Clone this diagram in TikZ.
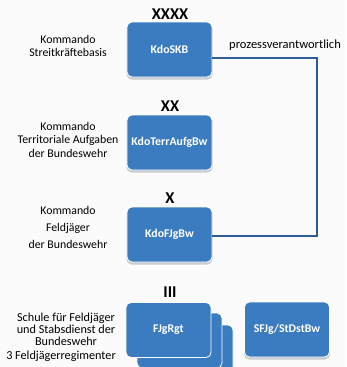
\documentclass[tikz,border=0pt]{standalone}
\usepackage{fontspec}
\setmainfont{Carlito}
\definecolor{boxblue}{HTML}{3B7BBF}
\definecolor{lineblue}{HTML}{2F5E96}
\definecolor{shadowgray}{HTML}{C9CDD2}
\definecolor{bg}{HTML}{FBFBFB}
\begin{document}
\begin{tikzpicture}[x=1pt,y=-1pt,
  unit/.style={draw=white, line width=0.8pt, fill=boxblue, rounded corners=5pt,
    minimum width=85pt, minimum height=55pt, inner sep=0pt, text=white,
    font=\bfseries\fontsize{11.8}{12}\selectfont},
  shade/.style={fill=shadowgray, rounded corners=5pt, minimum width=86pt, minimum height=56pt, inner sep=0pt},
  echelon/.style={font=\bfseries\fontsize{16.5}{16}\selectfont, text=black},
  lab/.style={align=center, font=\fontsize{11.8}{13.5}\selectfont, text=black},
  conn/.style={draw=lineblue, line width=1.2pt}]
\useasboundingbox (0,0) rectangle (346,367);
\fill[bg] (0,0) rectangle (346,367);
% shadows
\node[shade] at (169.5,51.5) {};
\node[shade] at (169.5,144.5) {};
\node[shade] at (169.5,236.5) {};
\node[shade] at (287,331.5) {};
% stacked regiments
\node[unit] (r3) at (190.5,352.5) {};
\node[unit] (r2) at (179.5,340.5) {};
% boxes
\node[unit] (skb) at (169.5,49.5) {KdoSKB};
\node[unit] (terr) at (169.5,142.5) {KdoTerrAufgBw};
\node[unit] (fjg) at (169.5,234.5) {KdoFJgBw};
\node[unit] (rgt) at (168.5,330) {FJgRgt};
\node[unit] (sfjg) at (287,329.5) {SFJg/StDstBw};
% echelon marks
\node[echelon] (e1) at (170,14) {XXXX};
\node[echelon] (e2) at (170,106) {XX};
\node[echelon] (e3) at (170,198) {X};
\node[echelon] (e4) at (170,292) {III};
% labels
\node[lab] (l1) at (68,46) {Kommando\\Streitkräftebasis};
\node[lab] (l2) at (68,139.5) {Kommando\\Territoriale Aufgaben\\der Bundeswehr};
\node[lab, font=\fontsize{11.8}{17}\selectfont] (l3) at (68,227) {Kommando\\Feldjäger\\der Bundeswehr};
\node[lab, font=\fontsize{12.2}{12}\selectfont] (l4) at (66,329) {Schule für Feldjäger\\und Stabsdienst der\\Bundeswehr};
\node[lab, font=\fontsize{12.2}{12}\selectfont] (l5) at (61,356) {3 Feldjägerregimenter};
\node[anchor=west, font=\fontsize{12.5}{13}\selectfont, inner sep=0pt] (pv) at (229,45) {prozessverantwortlich};
% connector
\coordinate (c1) at (317,58);
\coordinate (c2) at (317,236);
\draw[conn] (skb.east |- c1) -- (c1) -- (c2) -- (fjg.east |- c2);
\end{tikzpicture}
\end{document}
